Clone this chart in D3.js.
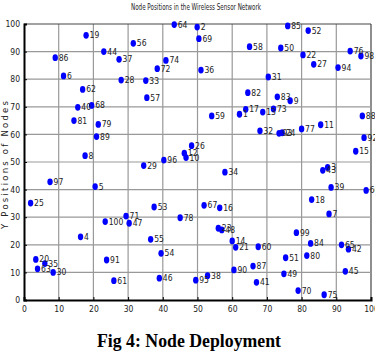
<!DOCTYPE html>
<html><head><meta charset="utf-8">
<script src="https://cdn.jsdelivr.net/npm/d3@7"></script>
<style>body{margin:0;background:#fff}svg{display:block}</style>
</head><body>
<script>
const nodeIds = d3.range(1, 101);
const xValues = [62.1,49.9,87.5,16.3,20.5,11.4,87.9,17.6,76.7,46.7,
85.5,46.2,68.8,60.0,95.6,56.4,63.9,82.9,17.9,3.4,
61.0,80.4,56.0,74.4,1.9,48.3,83.5,28.0,34.5,8.4,
70.4,68.0,35.1,57.9,6.0,51.0,27.4,52.9,88.5,15.5,
67.0,93.5,86.1,23.0,92.6,39.0,30.3,57.0,74.9,74.0,
75.4,81.9,37.5,39.5,36.5,31.5,35.4,65.0,54.1,67.5,
25.9,16.9,3.9,43.3,91.5,98.6,51.9,19.5,50.4,79.0,
29.4,38.4,71.9,40.9,86.5,94.0,80.0,45.0,21.4,81.5,
14.4,64.5,73.0,82.6,76.0,9.0,66.0,97.5,20.9,60.5,
23.8,98.0,73.5,90.5,49.5,40.3,7.5,97.1,78.5,23.4];
const yValues = [67.3,98.9,48.0,22.9,41.1,81.2,31.2,52.3,72.2,51.6,
63.5,53.2,68.1,21.4,53.9,33.4,69.1,36.4,95.9,14.7,
19.1,88.8,26.0,60.6,35.1,55.9,85.4,79.7,48.7,10.0,
80.8,61.3,79.5,46.3,13.2,83.3,87.2,8.8,40.8,69.8,
6.4,18.4,47.0,90.0,10.4,7.9,27.8,25.4,9.5,91.3,
15.3,97.6,33.7,16.9,22.0,93.0,73.3,91.8,66.7,19.3,
7.0,76.3,11.3,99.8,20.0,39.7,34.3,70.5,94.7,3.4,
30.4,83.8,69.2,86.8,1.9,90.2,62.0,29.8,63.6,16.1,
65.0,75.1,73.6,20.5,99.3,87.8,12.3,66.7,59.2,10.9,
14.5,58.8,60.4,84.2,7.2,50.7,42.8,88.4,24.4,28.4];
const tickValues = [0,10,20,30,40,50,60,70,80,90,100];
const titleText = "Node Positions in the Wireless Sensor Network";
const yLabelText = "Y Positions of Nodes";
const captionText = "Fig 4: Node Deployment";

const W = 375, H = 352;
const svg = d3.select("body").append("svg").attr("width", W).attr("height", H);
const x = d3.scaleLinear().domain([0,100]).range([24,371]);
const y = d3.scaleLinear().domain([0,100]).range([300,24]);
const narrow = "'Liberation Sans Narrow','DejaVu Sans Condensed','Arial Narrow',sans-serif";

// grid
const g = svg.append("g");
g.selectAll("line.v").data(tickValues.slice(1)).join("line")
  .attr("x1", d => x(d)).attr("x2", d => x(d)).attr("y1", y(0)).attr("y2", y(100))
  .attr("stroke", d => d === 100 ? "#444" : "#999").attr("stroke-width", 1.2);
g.selectAll("line.h").data(tickValues.slice(1)).join("line")
  .attr("y1", d => y(d)).attr("y2", d => y(d)).attr("x1", x(0)).attr("x2", x(100))
  .attr("stroke", d => d === 100 ? "#444" : "#999").attr("stroke-width", 1.2);

// axes
const xAxis = d3.axisBottom(x).tickValues(tickValues).tickSize(-3).tickPadding(6);
const yAxis = d3.axisLeft(y).tickValues(tickValues).tickSize(-3).tickPadding(4);
const xa = svg.append("g").attr("transform", `translate(0,${y(0)})`).call(xAxis);
const ya = svg.append("g").attr("transform", `translate(${x(0)},0)`).call(yAxis);
[xa, ya].forEach(a => {
  a.select(".domain").attr("stroke", "#000").attr("stroke-width", 2);
  a.selectAll(".tick line").attr("stroke", "#000");
  a.selectAll(".tick text").attr("font-family", narrow).attr("font-size", 8.5).attr("fill", "#222");
});

// points
const pts = nodeIds.map((id, i) => ({id, x: xValues[i], y: yValues[i]}));
svg.append("g").selectAll("ellipse").data(pts).join("ellipse")
  .attr("cx", d => x(d.x)).attr("cy", d => y(d.y)).attr("rx", 2.7).attr("ry", 3.4)
  .attr("fill", "#0000ff");
svg.append("g").selectAll("text").data(pts).join("text")
  .attr("x", d => x(d.x) + 3.5).attr("y", d => y(d.y)).attr("dy", "0.35em")
  .attr("font-family", narrow).attr("font-size", 8.5).attr("fill", "#222")
  .text(d => d.id);

// title
svg.append("text").attr("x", 196).attr("y", 10).attr("text-anchor", "middle")
  .attr("font-family", narrow).attr("font-size", 8).attr("fill", "#222")
  .attr("textLength", 130).attr("lengthAdjust", "spacingAndGlyphs").text(titleText);
// y label
svg.append("text").attr("transform", "translate(8,165) rotate(-90)").attr("text-anchor", "middle")
  .attr("font-family", "'DejaVu Sans',sans-serif").attr("font-size", 8.5).attr("fill", "#222")
  .attr("textLength", 128).text(yLabelText);
// caption
svg.append("text").attr("x", 189).attr("y", 347).attr("text-anchor", "middle")
  .attr("font-family", "'Liberation Serif','Times New Roman',serif").attr("font-weight", "bold")
  .attr("font-size", 19).attr("fill", "#000")
  .attr("textLength", 184).attr("lengthAdjust", "spacingAndGlyphs").text(captionText);
</script>
</body></html>
